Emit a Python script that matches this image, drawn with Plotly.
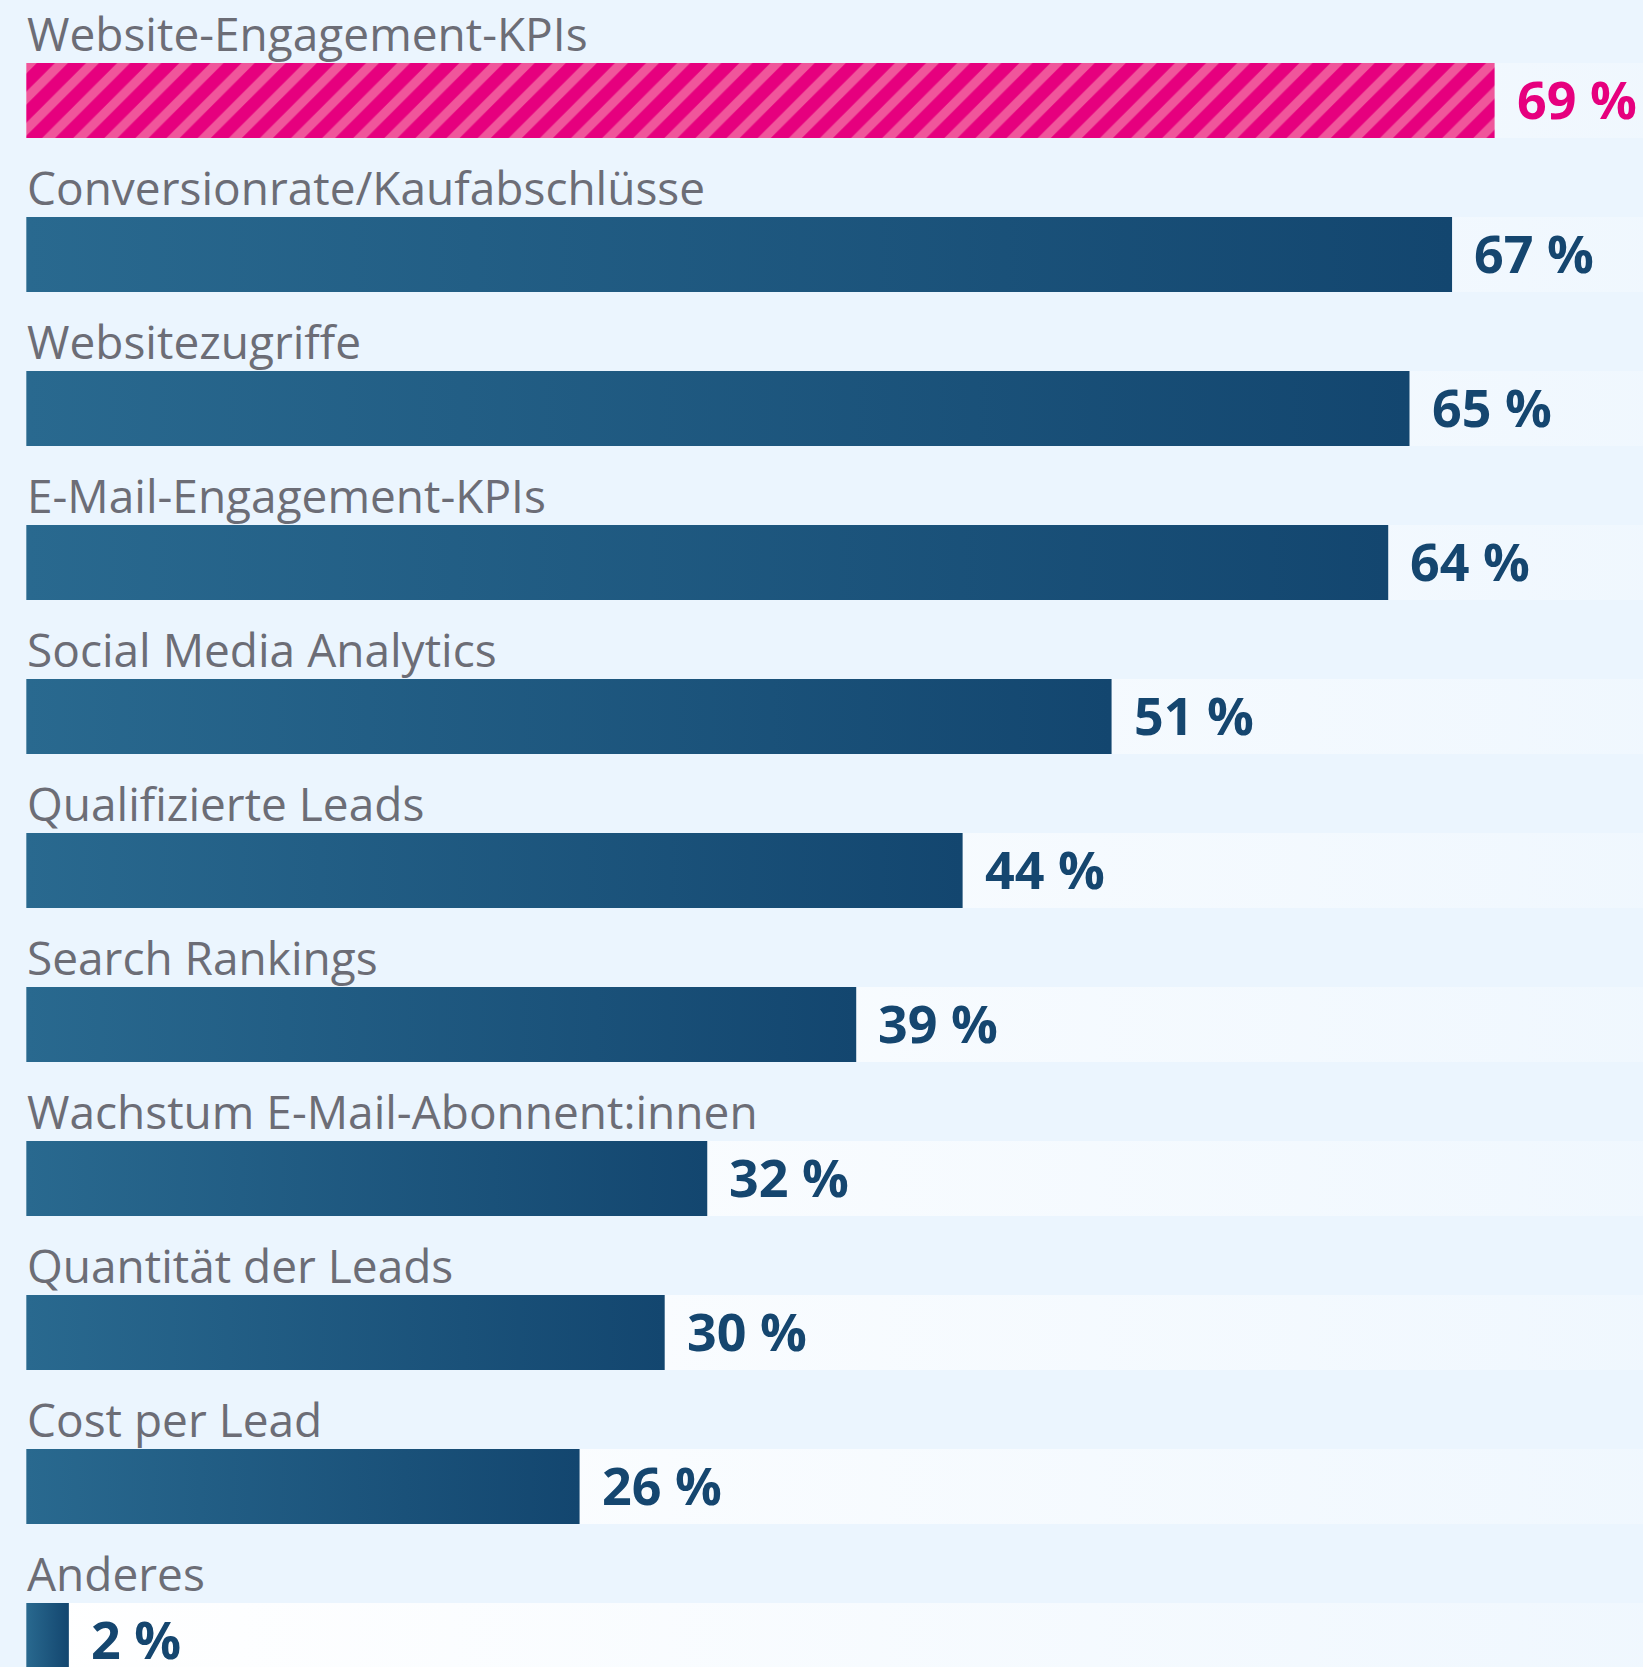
import plotly.graph_objects as go

categories = [
    "Website-Engagement-KPIs",
    "Conversionrate/Kaufabschlüsse",
    "Websitezugriffe",
    "E-Mail-Engagement-KPIs",
    "Social Media Analytics",
    "Qualifizierte Leads",
    "Search Rankings",
    "Wachstum E-Mail-Abonnent:innen",
    "Quantität der Leads",
    "Cost per Lead",
    "Anderes",
]
values = [69, 67, 65, 64, 51, 44, 39, 32, 30, 26, 2]
value_labels = [f"{v} %" for v in values]
highlight = [True] + [False] * 10

BG = "#EBF5FE"
BAR_LEFT = "#29698F"
BAR_RIGHT = "#13466F"
PINK = "#E6007E"
PINK_LIGHT = "#F0569B"
LABEL_GREY = "#6C6D76"
VALUE_BLUE = "#15466F"

W, H = 1643, 1667
px_per_unit = 21.28
x0_px = 26.3
row_pitch = 154.0
first_center = 100.5
bar_h = 75.0 / row_pitch
track_max = 100

fig = go.Figure()

# background tracks
for i, v in enumerate(values):
    top, bot = i - bar_h / 2, i + bar_h / 2
    fig.add_trace(go.Scatter(
        x=[0, track_max, track_max, 0, 0], y=[top, top, bot, bot, top],
        mode="lines", fill="toself", line=dict(width=0, color="rgba(0,0,0,0)"),
        fillgradient=dict(type="horizontal", start=0, stop=track_max,
                          colorscale=[[0, "#FFFFFF"], [1, BG]]),
        hoverinfo="skip", showlegend=False))

# bars
for i, v in enumerate(values):
    top, bot = i - bar_h / 2, i + bar_h / 2
    if highlight[i]:
        fig.add_trace(go.Scatter(
            x=[0, v, v, 0, 0], y=[top, top, bot, bot, top],
            mode="lines", fill="toself", fillcolor=PINK,
            line=dict(width=0, color="rgba(0,0,0,0)"),
            fillpattern=dict(shape="/", fillmode="replace", bgcolor=PINK,
                             fgcolor=PINK_LIGHT, size=22, solidity=0.42),
            hoverinfo="skip", showlegend=False))
    else:
        fig.add_trace(go.Scatter(
            x=[0, v, v, 0, 0], y=[top, top, bot, bot, top],
            mode="lines", fill="toself", line=dict(width=0, color="rgba(0,0,0,0)"),
            fillgradient=dict(type="horizontal", start=0, stop=v,
                              colorscale=[[0, BAR_LEFT], [1, BAR_RIGHT]]),
            hoverinfo="skip", showlegend=False))

annotations = []
for i, (c, v, lab) in enumerate(zip(categories, values, value_labels)):
    annotations.append(dict(
        x=0, y=i - bar_h / 2, xref="x", yref="y", text=c, showarrow=False,
        xanchor="left", yanchor="bottom", xshift=-1, yshift=-3,
        font=dict(family="Open Sans", size=46, color=LABEL_GREY)))
    annotations.append(dict(
        x=v, y=i, xref="x", yref="y", text=lab, showarrow=False,
        xanchor="left", yanchor="middle", xshift=20, yshift=2,
        font=dict(family="Open Sans", size=52, weight=700,
                  color=PINK if highlight[i] else VALUE_BLUE)))

fig.update_layout(
    width=W, height=H, margin=dict(l=0, r=0, t=0, b=0),
    paper_bgcolor=BG, plot_bgcolor=BG,
    annotations=annotations,
    xaxis=dict(range=[-x0_px / px_per_unit, (W - x0_px) / px_per_unit],
               visible=False, fixedrange=True),
    yaxis=dict(range=[(H - first_center) / row_pitch, -first_center / row_pitch],
               visible=False, fixedrange=True),
)

fig.write_html("out.html")
